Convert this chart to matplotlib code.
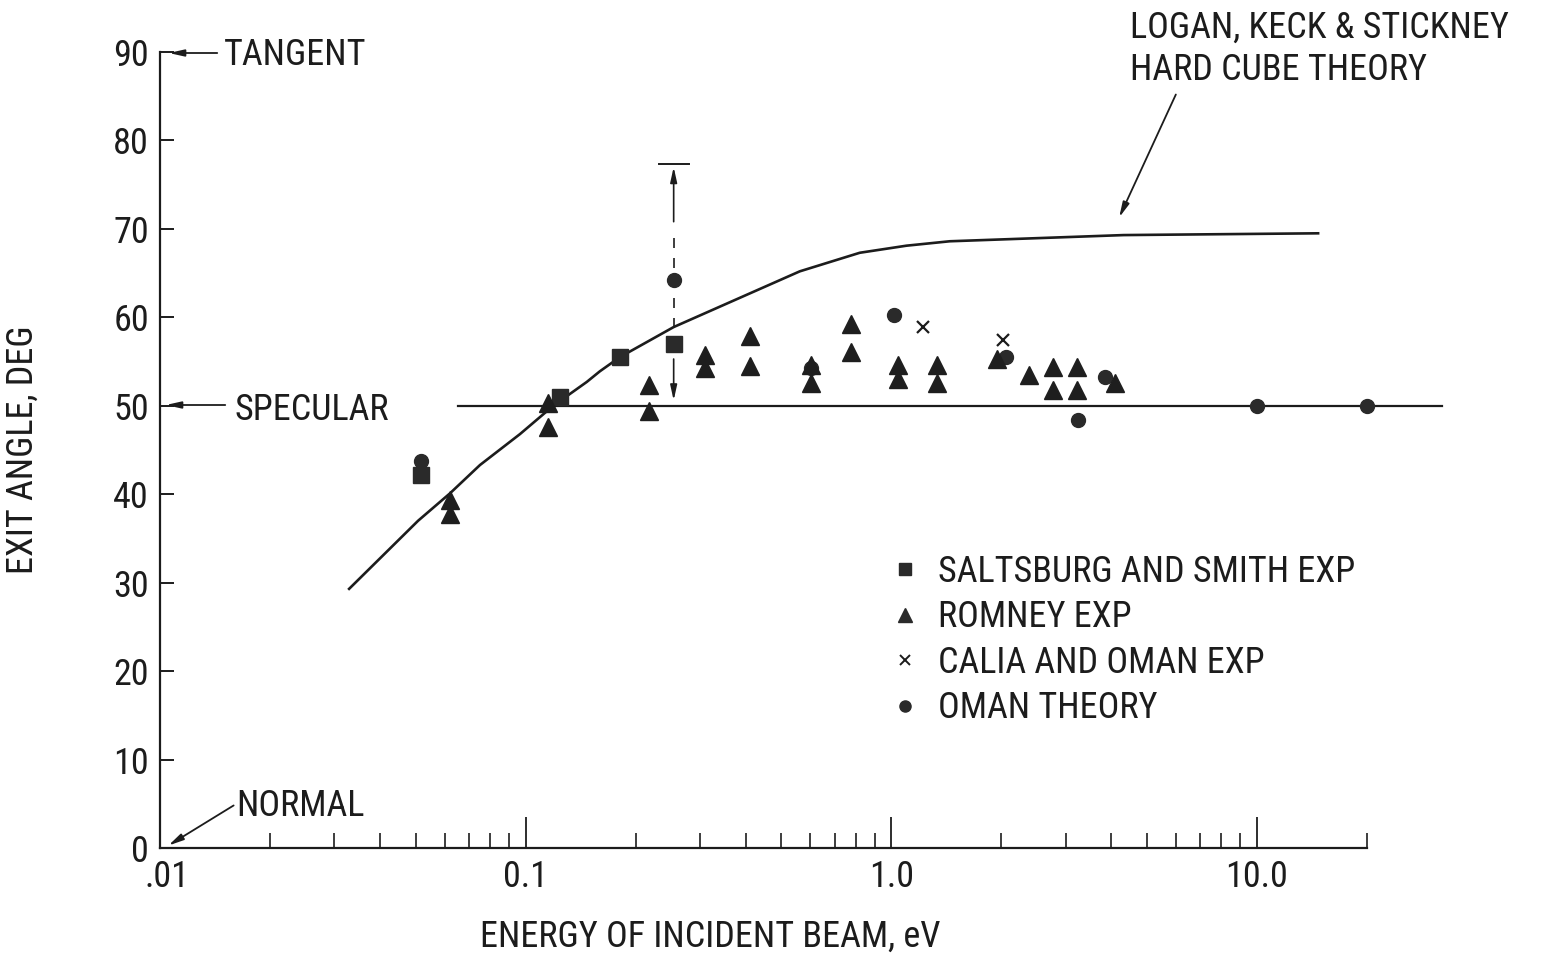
import matplotlib
matplotlib.use("Agg")
import matplotlib.pyplot as plt
import matplotlib.transforms as mtransforms
from matplotlib import font_manager
from matplotlib.lines import Line2D
from matplotlib.ticker import FixedLocator, FixedFormatter, LogLocator, NullFormatter

# Logan, Keck & Stickney hard cube theory
cube_E = [0.0329, 0.0508, 0.0621, 0.075, 0.0965, 0.119, 0.147, 0.1596, 0.181,
          0.254, 0.385, 0.562, 0.82, 1.10, 1.445, 4.32, 14.7]
cube_ang = [29.3, 37.0, 40.1, 43.3, 46.8, 50.0, 52.7, 53.9, 55.5,
            58.9, 62.2, 65.2, 67.3, 68.1, 68.6, 69.3, 69.5]

# Saltsburg and Smith exp
salt_E = [0.0518, 0.124, 0.181, 0.254]
salt_ang = [42.2, 51.0, 55.5, 57.0]

# Romney exp
romney_E = [0.0621, 0.0621, 0.115, 0.115, 0.218, 0.218, 0.309, 0.309, 0.41, 0.41,
            0.602, 0.602, 0.775, 0.775, 1.04, 1.04, 1.33, 1.33, 1.95, 2.38,
            2.77, 2.77, 3.22, 3.22, 4.08]
romney_ang = [39.3, 37.8, 50.3, 47.6, 52.3, 49.4, 55.7, 54.3, 57.9, 54.5,
              54.6, 52.6, 59.2, 56.1, 54.6, 53.0, 54.6, 52.6, 55.3, 53.5,
              54.4, 51.8, 54.4, 51.8, 52.6]

# Calia and Oman exp
calia_E = [1.22, 2.02]
calia_ang = [58.9, 57.4]

# Oman theory
oman_E = [0.0518, 0.254, 0.602, 1.017, 2.06, 3.24, 3.84, 10.0, 20.0]
oman_ang = [43.8, 64.2, 54.3, 60.3, 55.5, 48.4, 53.2, 50.0, 50.0]

# specular line and error bar
spec_E = [0.0654, 32.0]
spec_ang = 50.0
err_E = 0.254
err_top = 77.3

# narrow lettering if some condensed face is there, else plain DejaVu a bit smaller
installed = set(f.name for f in font_manager.fontManager.ttflist)
narrow = [n for n in ['Liberation Sans Narrow', 'DejaVu Sans Condensed', 'Roboto Condensed',
                      'Open Sans Condensed', 'Noto Sans Condensed'] if n in installed]
if narrow:
    plt.rcParams['font.family'] = [narrow[0], 'DejaVu Sans']
    fs = 26
else:
    plt.rcParams['font.family'] = ['DejaVu Sans']
    fs = 21

W, H = 1545, 956
def fx(x):
    return x / W
def fy(y):
    return 1 - y / H

ink = '#1c1c1c'

fig = plt.figure(figsize=(15.45, 9.56), dpi=100)
ax = fig.add_axes([fx(160), fy(848), fx(1367) - fx(160), fy(52) - fy(848)])

ax.set_xscale('log')
ax.set_xlim(0.01, 20)
ax.set_ylim(0, 90)

ax.plot(cube_E, cube_ang, color=ink, lw=1.9)
ax.plot(spec_E, [spec_ang, spec_ang], color=ink, lw=1.6, clip_on=False)

ax.plot(oman_E, oman_ang, 'o', color='#2a2a2a', ms=10, ls='none', clip_on=False, zorder=3)
ax.plot(salt_E, salt_ang, 's', color='#2a2a2a', ms=11, ls='none', zorder=4)
ax.plot(romney_E, romney_ang, '^', color='#1e1e1e', ms=13, ls='none', zorder=4)
ax.plot(calia_E, calia_ang, 'x', color=ink, ms=9, mew=1.6, ls='none', zorder=4)

# error bar at 0.25 eV
ax.plot([err_E / 1.1, err_E * 1.1], [err_top, err_top], color=ink, lw=1.4)
ax.annotate('', xy=(err_E, err_top), xytext=(err_E, 70.5),
            arrowprops=dict(arrowstyle='-|>,head_length=0.9,head_width=0.2', color=ink, lw=1.2))
ax.plot([err_E, err_E], [69.0, 58.8], color=ink, lw=1.2, ls=(0, (6, 6)))
ax.annotate('', xy=(err_E, 50.3), xytext=(err_E, 55.6),
            arrowprops=dict(arrowstyle='-|>,head_length=0.9,head_width=0.2', color=ink, lw=1.2))

# axes look
for s in ['top', 'right']:
    ax.spines[s].set_visible(False)
for s in ['left', 'bottom']:
    ax.spines[s].set_linewidth(1.6)
    ax.spines[s].set_color(ink)

ax.set_yticks(range(0, 91, 10))
ax.tick_params(axis='y', direction='in', length=10, width=1.4, labelsize=fs, pad=8, colors=ink)
ax.xaxis.set_major_locator(FixedLocator([0.01, 0.1, 1.0, 10.0]))
ax.xaxis.set_major_formatter(FixedFormatter(['.01', '0.1', '1.0', '10.0']))
ax.xaxis.set_minor_locator(LogLocator(base=10, subs=range(2, 10)))
ax.xaxis.set_minor_formatter(NullFormatter())
ax.tick_params(axis='x', which='major', direction='in', length=22, width=1.3, labelsize=fs, pad=8, colors=ink)
ax.tick_params(axis='x', which='minor', direction='in', length=11, width=1.2, colors=ink)

# nudge ".01" a little right so it clears the "0"
fig.canvas.draw()
first = ax.xaxis.get_major_ticks()[0].label1
first.set_transform(first.get_transform() + mtransforms.ScaledTranslation(7 / 100, 0, fig.dpi_scale_trans))

ax.set_xlabel('ENERGY OF INCIDENT BEAM, eV', fontsize=fs, color=ink, labelpad=17)
ax.xaxis.label.set_x((710 - 160) / (1367 - 160))
ax.set_ylabel('EXIT ANGLE, DEG', fontsize=fs, color=ink, labelpad=52)

# side annotations
arr = dict(arrowstyle='-|>,head_length=0.9,head_width=0.2', color=ink, lw=1.3)
fig.text(fx(224), fy(55), 'TANGENT', fontsize=fs, color=ink, va='center', ha='left')
ax.annotate('', xy=(fx(166), fy(53)), xytext=(fx(220), fy(53)),
            xycoords='figure fraction', textcoords='figure fraction', arrowprops=arr)
fig.text(fx(234), fy(410), 'SPECULAR', fontsize=fs, color=ink, va='center', ha='left')
ax.annotate('', xy=(fx(163), fy(405)), xytext=(fx(228), fy(405)),
            xycoords='figure fraction', textcoords='figure fraction', arrowprops=arr)
fig.text(fx(236), fy(806), 'NORMAL', fontsize=fs, color=ink, va='center', ha='left')
ax.annotate('', xy=(fx(166), fy(847)), xytext=(fx(236), fy(804)),
            xycoords='figure fraction', textcoords='figure fraction', arrowprops=arr)
fig.text(fx(1130), fy(49), 'LOGAN, KECK & STICKNEY\nHARD CUBE THEORY', fontsize=fs,
         color=ink, va='center', ha='left', linespacing=1.2)
ax.annotate('', xy=(fx(1118), fy(220)), xytext=(fx(1177), fy(92)),
            xycoords='figure fraction', textcoords='figure fraction', arrowprops=arr)

handles = [
    Line2D([], [], marker='s', color='#2a2a2a', ms=9, ls='none'),
    Line2D([], [], marker='^', color='#2a2a2a', ms=10, ls='none'),
    Line2D([], [], marker='x', color=ink, ms=7, mew=1.4, ls='none'),
    Line2D([], [], marker='o', color='#2a2a2a', ms=8, ls='none'),
]
labels = ['SALTSBURG AND SMITH EXP', 'ROMNEY EXP', 'CALIA AND OMAN EXP', 'OMAN THEORY']
ax.legend(handles, labels, loc='upper left', bbox_to_anchor=(fx(873), fy(536)),
          bbox_transform=fig.transFigure, frameon=False, fontsize=fs,
          handlelength=0.8, handletextpad=0.5, labelspacing=0.26, borderpad=0, labelcolor=ink)

fig.savefig('out.png', dpi=100)
